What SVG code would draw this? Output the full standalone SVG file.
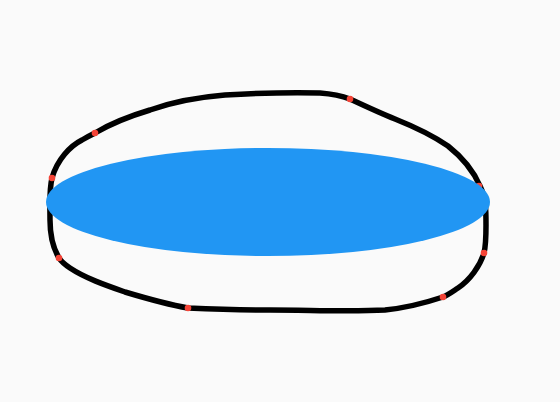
<svg xmlns="http://www.w3.org/2000/svg" width="560" height="402" viewBox="0 0 560 402">
<style>
.stroke{fill:none;stroke:#000;stroke-width:5.5;stroke-linejoin:round;stroke-linecap:round}
.pt{fill:#f44336}
</style>
<rect width="560" height="402" fill="#fafafa"/>
<g id="connectors">
<path class="stroke" d="M95,133 C110,124 130,116 150,110 C175,101 200,97 225,95 C260,93 290,92 320,93 C333,94 342,96 350,99 C365,106 380,113 395,119 C415,127 432,135 448,146 C462,157 473,170 480,186 C486,198 486,210 486,225 C486,236 486,245 484,253 C480,266 470,280 458,288 C452,292 448,295 443,297 C425,303 405,308 385,310 C350,312 310,310 270,310 C240,310 210,309 188,308 C165,304 145,298 125,292 C105,285 85,278 70,268 C64,264 61,261 59,258 C53,248 50,235 50,220 C50,205 49,190 52,178 C57,160 70,146 82,140 C87,137 91,135 95,133 Z"/>
</g>
<g id="points">
<circle class="pt" cx="95" cy="133" r="3.3"/>
<circle class="pt" cx="52" cy="178" r="3.3"/>
<circle class="pt" cx="350" cy="99" r="3.3"/>
<circle class="pt" cx="479" cy="186" r="3.3"/>
<circle class="pt" cx="59" cy="258" r="3.3"/>
<circle class="pt" cx="188" cy="308" r="3.3"/>
<circle class="pt" cx="443" cy="297" r="3.3"/>
<circle class="pt" cx="484" cy="253" r="3.3"/>
</g>
<g id="ellipse">
<ellipse cx="268" cy="202" rx="222" ry="54" fill="#2196f3"/>
</g>
</svg>
